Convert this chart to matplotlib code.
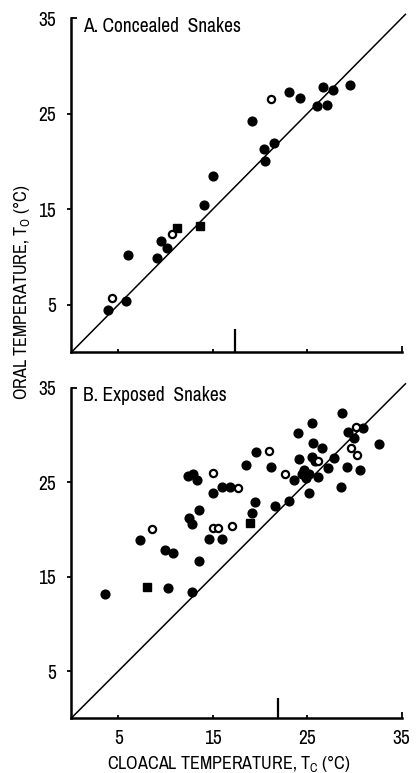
import numpy as np
import matplotlib
matplotlib.use('Agg')
import matplotlib.pyplot as plt
from matplotlib import font_manager

# narrow sans if one is installed, else DejaVu Sans
narrow = [f.name for f in font_manager.fontManager.ttflist
          if 'Narrow' in f.name or 'Condensed' in f.name or f.stretch in ('condensed', 'semi-condensed')]
if narrow:
    plt.rcParams['font.family'] = [sorted(narrow)[0], 'DejaVu Sans']
    fs_title, fs_tick, fs_lab = 14, 14, 13
else:
    plt.rcParams['font.family'] = ['DejaVu Sans']
    fs_title, fs_tick, fs_lab = 11.5, 11.5, 10.5
plt.rcParams['mathtext.default'] = 'regular'

# A. concealed snakes (cloacal, oral)
a_fill_x = [23.1, 24.2, 19.1, 26.0, 26.7, 27.7, 27.1, 29.5, 20.4, 21.5, 20.5, 15.0, 14.1, 9.5, 10.2, 9.1, 6.0, 3.9, 5.8]
a_fill_y = [27.3, 26.6, 24.2, 25.8, 27.8, 27.5, 25.9, 28.0, 21.3, 21.9, 20.0, 18.5, 15.4, 11.7, 10.9, 9.9, 10.2, 4.45, 5.4]
a_open_x = [21.2, 10.7, 4.3]
a_open_y = [26.5, 12.4, 5.7]
a_sq_x = [13.6, 11.25]
a_sq_y = [13.2, 13.0]

# B. exposed snakes
b_fill_x = [28.7, 25.5, 24.0, 29.3, 30.9, 30.0, 32.6, 25.6, 26.6, 24.1, 25.5, 25.8, 27.8, 27.2, 29.2, 30.6,
            24.7, 25.2, 24.9, 23.6, 26.1, 28.6, 25.2, 23.1, 19.6, 18.5, 21.2, 12.9, 12.4, 13.3, 16.0, 16.8,
            15.0, 13.5, 12.5, 12.8, 19.5, 19.1, 21.6, 14.6, 16.0, 7.3, 9.9, 10.8, 13.5, 10.3, 12.8, 3.6, 24.4]
b_fill_y = [32.3, 31.2, 30.2, 30.3, 30.7, 29.7, 29.0, 29.1, 28.6, 27.4, 27.7, 27.2, 27.5, 26.5, 26.6, 26.3,
            26.3, 25.9, 25.4, 25.2, 25.5, 24.5, 23.8, 23.0, 28.2, 26.8, 26.6, 25.9, 25.6, 25.2, 24.5, 24.5,
            23.8, 22.0, 21.2, 20.6, 22.9, 21.7, 22.5, 19.0, 19.0, 18.9, 17.8, 17.5, 16.6, 13.8, 13.4, 13.2, 25.9]
b_open_x = [30.2, 29.6, 30.3, 26.1, 22.7, 21.0, 15.0, 17.7, 8.6, 15.0, 15.6, 17.0]
b_open_y = [30.8, 28.6, 27.9, 27.2, 25.9, 28.3, 26.0, 24.4, 20.0, 20.1, 20.1, 20.4]
b_sq_x = [8.0, 18.9]
b_sq_y = [13.9, 20.7]

# vertical marks on the x axis (position, height)
a_mark = (17.4, 2.5)
b_mark = (21.9, 2.1)

diag = [0, 35.4]
ticks = [5, 15, 25]
top = 35

fig = plt.figure(figsize=(4.16, 7.73), dpi=100)
ax1 = fig.add_axes([0.171, 0.544, 0.7945, 0.4325])
ax2 = fig.add_axes([0.171, 0.0708, 0.7945, 0.4278])

panels = [
    (ax1, a_fill_x, a_fill_y, a_open_x, a_open_y, a_sq_x, a_sq_y, a_mark, 'A. Concealed  Snakes'),
    (ax2, b_fill_x, b_fill_y, b_open_x, b_open_y, b_sq_x, b_sq_y, b_mark, 'B. Exposed  Snakes'),
]

for ax, fx, fy, ox, oy, sx, sy, mk, title in panels:
    ax.set_xlim(0, top)
    ax.set_ylim(0, top)
    ax.plot(diag, diag, color='black', lw=1.1, clip_on=False, zorder=1)
    ax.plot(fx, fy, 'o', color='black', ms=6.3, zorder=3)
    ax.plot(ox, oy, 'o', mfc='white', mec='black', mew=1.6, ms=5.2, zorder=4)
    ax.plot(sx, sy, 's', color='black', ms=5.6, zorder=3)
    ax.vlines(mk[0], 0, mk[1], color='black', lw=1.6)
    ax.text(0.035, 0.975, title, transform=ax.transAxes, fontsize=fs_title, va='center', ha='left')

    for s in ['top', 'right']:
        ax.spines[s].set_visible(False)
    for s in ['left', 'bottom']:
        ax.spines[s].set_linewidth(1.8)

    ax.set_yticks(ticks)
    ax.set_yticks([top], minor=True)
    ax.set_yticklabels([str(t) for t in ticks])
    ax.set_yticklabels([str(top)], minor=True)
    ax.tick_params(axis='y', which='major', direction='out', length=3, width=1.3, pad=8, labelsize=fs_tick)
    ax.tick_params(axis='y', which='minor', direction='in', length=4, width=1.3, pad=11, labelsize=fs_tick)

    ax.set_xticks(ticks)
    ax.set_xticks([top], minor=True)
    ax.tick_params(axis='x', which='major', direction='in', length=2.5, width=1.3, pad=8, labelsize=fs_tick)
    ax.tick_params(axis='x', which='minor', direction='in', length=4, width=1.3, pad=8, labelsize=fs_tick)

ax1.set_xticklabels([])
ax2.set_xticklabels([str(t) for t in ticks])
ax2.set_xticklabels([str(top)], minor=True)

fig.text(229 / 416, 1 - 763 / 773, 'CLOACAL TEMPERATURE, $T_C$ (°C)', ha='center', va='center', fontsize=fs_lab)
fig.text(22 / 416, 1 - 292 / 773, 'ORAL TEMPERATURE, $T_O$ (°C)', ha='center', va='center',
         rotation=90, fontsize=fs_lab)

fig.savefig('out.png', dpi=100)
